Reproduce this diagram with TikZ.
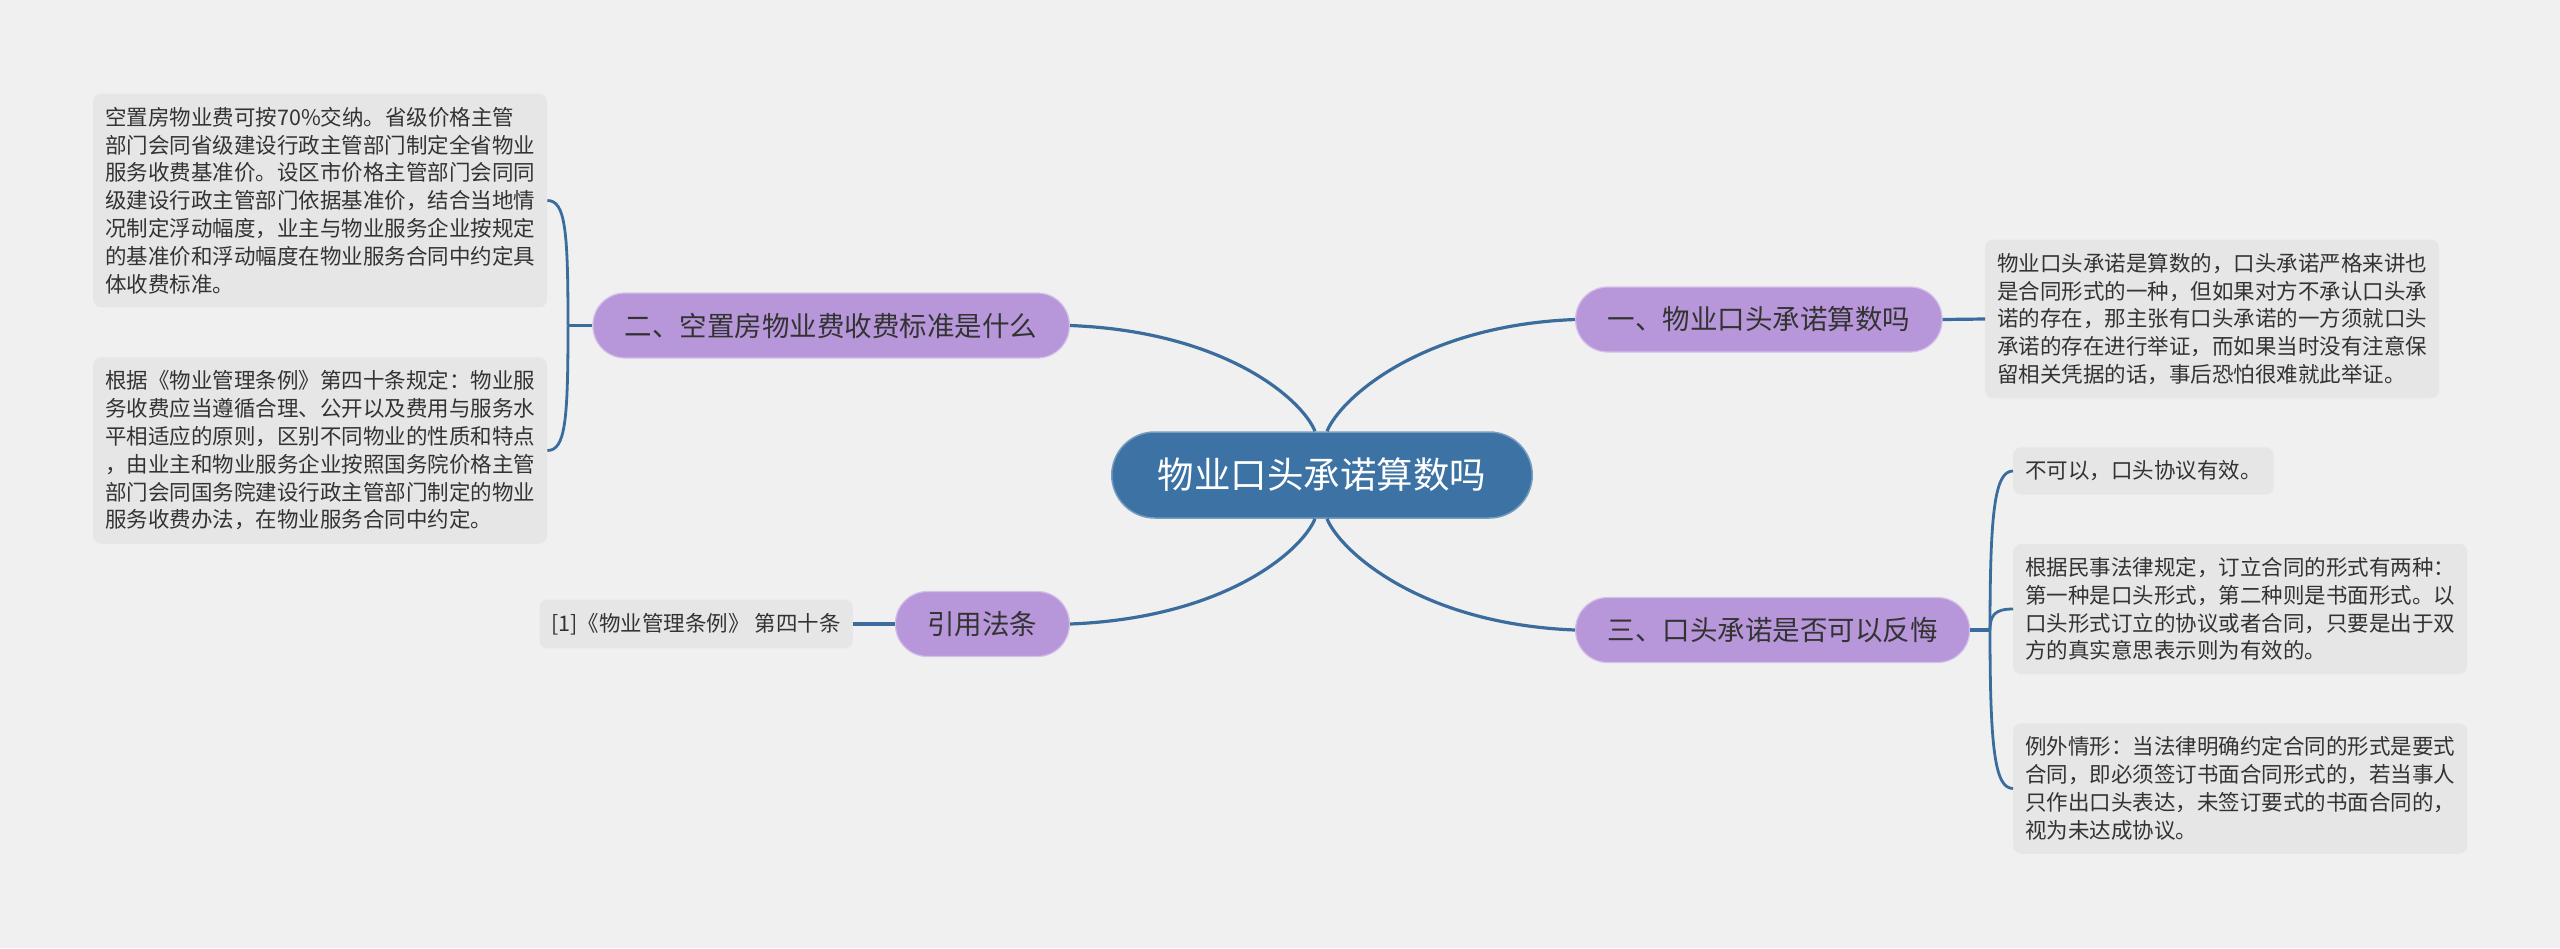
\documentclass[tikz,border=0pt]{standalone}
\usepackage{fontspec}
\setmainfont{Noto Sans CJK SC}
\definecolor{paper}{HTML}{F0F0F0}
\definecolor{hub}{HTML}{3C72A4}
\definecolor{lilac}{HTML}{B797DA}
\definecolor{card}{HTML}{E6E6E6}
\definecolor{wire}{HTML}{3A6C9D}
\definecolor{txt}{HTML}{333333}

\begin{document}
\begin{tikzpicture}[x=1pt,y=-1pt,
  hubnode/.style={fill=hub,draw=hub!70!white,line width=1.5pt,text=white,
    rounded corners=43pt,minimum height=86pt,inner xsep=46pt,
    font=\fontsize{36.5}{44}\selectfont},
  topic/.style={fill=lilac,draw=lilac!60!white,line width=1.2pt,text=txt,
    rounded corners=32pt,minimum height=65pt,inner xsep=32pt,
    font=\fontsize{27.5}{33}\selectfont},
  leaf/.style={fill=card,text=txt,rounded corners=8pt,align=left,
    inner xsep=12pt,inner ysep=13.5pt,font=\fontsize{21.5}{27.8}\selectfont},
  link/.style={draw=wire,line width=3.2pt},
  brace/.style={draw=wire,line width=2.8pt}]
  \useasboundingbox (0,0) rectangle (2560,948);
  \fill[paper] (0,0) rectangle (2560,948);

  % centre and the four topics
  \node[hubnode] (ctr) at (1322,475) {物业口头承诺算数吗};
  \node[topic,anchor=west] (b1) at (1575,319.5) {一、物业口头承诺算数吗};
  \node[topic,anchor=east] (b2) at (1070,325.5) {二、空置房物业费收费标准是什么};
  \node[topic,anchor=west] (b3) at (1575,630) {三、口头承诺是否可以反悔};
  \node[topic,anchor=east] (b4) at (1070,624) {引用法条};

  % leaves
  \node[leaf,anchor=west] (r1) at (1985,319) {物业口头承诺是算数的，口头承诺严格来讲也\\是合同形式的一种，但如果对方不承认口头承\\诺的存在，那主张有口头承诺的一方须就口头\\承诺的存在进行举证，而如果当时没有注意保\\留相关凭据的话，事后恐怕很难就此举证。};
  \node[leaf,anchor=west] (l1) at (93,200.5) {空置房物业费可按70\%交纳。省级价格主管\\部门会同省级建设行政主管部门制定全省物业\\服务收费基准价。设区市价格主管部门会同同\\级建设行政主管部门依据基准价，结合当地情\\况制定浮动幅度，业主与物业服务企业按规定\\的基准价和浮动幅度在物业服务合同中约定具\\体收费标准。};
  \node[leaf,anchor=west] (l2) at (93,450.5) {根据《物业管理条例》第四十条规定：物业服\\务收费应当遵循合理、公开以及费用与服务水\\平相适应的原则，区别不同物业的性质和特点\\，由业主和物业服务企业按照国务院价格主管\\部门会同国务院建设行政主管部门制定的物业\\服务收费办法，在物业服务合同中约定。};
  \node[leaf,anchor=east] (l4) at (853,624) {[1]《物业管理条例》 第四十条};
  \node[leaf,anchor=west] (r3a) at (2013,471) {不可以，口头协议有效。};
  \node[leaf,anchor=west] (r3b) at (2013,609) {根据民事法律规定，订立合同的形式有两种：\\第一种是口头形式，第二种则是书面形式。以\\口头形式订立的协议或者合同，只要是出于双\\方的真实意思表示则为有效的。};
  \node[leaf,anchor=west] (r3c) at (2013,788.5) {例外情形：当法律明确约定合同的形式是要式\\合同，即必须签订书面合同形式的，若当事人\\只作出口头表达，未签订要式的书面合同的，\\视为未达成协议。};

  % centre to topics
  \draw[link] ([xshift=5pt]ctr.north) .. controls +(13,-32) and +(-155,6) .. (b1.west);
  \draw[link] ([xshift=-7pt]ctr.north) .. controls +(-13,-32) and +(155,6) .. (b2.east);
  \draw[link] ([xshift=5pt]ctr.south) .. controls +(13,32) and +(-155,-6) .. (b3.west);
  \draw[link] ([xshift=-7pt]ctr.south) .. controls +(-13,32) and +(155,-6) .. (b4.east);

  % topics to leaves
  \draw[link] (b1.east) -- (r1.west);
  \draw[link] (l4.east) -- (b4.west);
  \coordinate (j2) at (568,325.5);
  \coordinate (j3) at (1990,630);
  \draw[link] (b2.west) -- (j2);
  \draw[link] (b3.east) -- (j3);
  \draw[brace] (j2) .. controls +(0,-95) and +(18,0) .. (l1.east);
  \draw[brace] (j2) .. controls +(0,95) and +(18,0) .. (l2.east);
  \foreach \n/\c in {r3a/-120,r3b/-15,r3c/120}
    \draw[brace] (j3) .. controls +(0,\c) and +(-18,0) .. (\n.west);
\end{tikzpicture}
\end{document}
